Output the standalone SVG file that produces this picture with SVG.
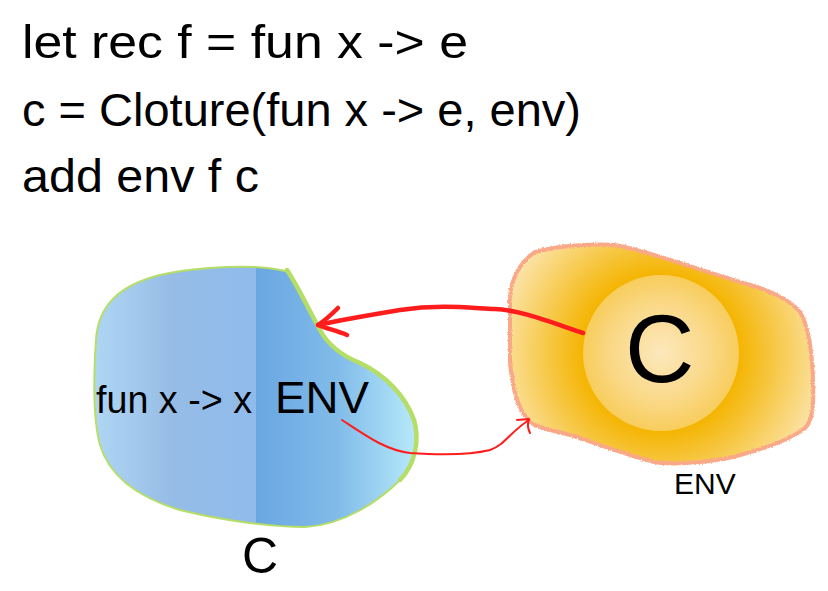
<svg xmlns="http://www.w3.org/2000/svg" width="828" height="591" viewBox="0 0 828 591">
  <style>
    .t { font-family: "Liberation Sans", Arial, sans-serif; fill: #000; }
    .red { fill: none; stroke: #ff1c1c; stroke-linecap: round; stroke-linejoin: round; }
  </style>
  <defs>
    <linearGradient id="blueGrad" gradientUnits="userSpaceOnUse" x1="93" y1="0" x2="418" y2="0">
      <stop offset="0" stop-color="#b0d6f4"/>
      <stop offset="0.25" stop-color="#96bce6"/>
      <stop offset="0.502" stop-color="#8fbbeb"/>
      <stop offset="0.503" stop-color="#6aa7e1"/>
      <stop offset="0.75" stop-color="#80bbe9"/>
      <stop offset="1" stop-color="#b8eafa"/>
    </linearGradient>
    <radialGradient id="orangeGrad" gradientUnits="userSpaceOnUse" cx="661" cy="353" r="165">
      <stop offset="0" stop-color="#f5b400"/>
      <stop offset="0.47" stop-color="#f4b400"/>
      <stop offset="1" stop-color="#fbe4aa"/>
    </radialGradient>
    <radialGradient id="innerGrad" gradientUnits="userSpaceOnUse" cx="661" cy="353" r="78">
      <stop offset="0" stop-color="#fce8bc"/>
      <stop offset="0.6" stop-color="#fad98a"/>
      <stop offset="1" stop-color="#f8cd5c"/>
    </radialGradient>
    <filter id="rough" x="-5%" y="-5%" width="110%" height="110%">
      <feTurbulence type="fractalNoise" baseFrequency="0.7" numOctaves="2" seed="3" result="n"/>
      <feDisplacementMap in="SourceGraphic" in2="n" scale="3" xChannelSelector="R" yChannelSelector="G"/>
    </filter>
  </defs>

  <g id="header">
    <text class="t" x="22" y="58" font-size="46" textLength="446" lengthAdjust="spacingAndGlyphs">let rec f = fun x -&gt; e</text>
    <text class="t" x="22" y="126" font-size="46" textLength="559" lengthAdjust="spacingAndGlyphs">c = Cloture(fun x -&gt; e, env)</text>
    <text class="t" x="22" y="192" font-size="46" textLength="237" lengthAdjust="spacingAndGlyphs">add env f c</text>
  </g>

  <g id="node-closure">
    <path d="M 96,340 C 98,305 120,285 160,275 C 190,268 230,266 255,267 C 270,268 283,269 290,273 C 300,290 310,312 320,330 C 328,345 340,355 360,363 C 385,375 405,395 414,420 C 420,440 415,465 400,480 C 380,500 345,525 305,527 C 270,527 220,520 180,510 C 140,498 110,478 100,445 C 92,415 94,370 96,340 Z" fill="url(#blueGrad)" stroke="#b5de66" stroke-width="2"/>
    <path d="M 287,270 C 300,290 310,312 320,330 C 328,345 340,355 360,363 C 385,375 405,395 414,420 C 420,440 415,465 400,480" fill="none" stroke="#b5de66" stroke-width="4.5" stroke-linecap="round"/>
    <text class="t" x="96" y="413" font-size="38" textLength="156" lengthAdjust="spacingAndGlyphs">fun x -&gt; x</text>
    <text class="t" x="275" y="413" font-size="44" textLength="94" lengthAdjust="spacingAndGlyphs">ENV</text>
    <text class="t" x="242" y="573" font-size="50">C</text>
  </g>

  <g id="node-env">
    <path d="M 510,300 C 510,280 520,262 535,252 C 560,245 600,243 620,246 C 650,252 700,270 740,282 C 770,290 790,300 800,312 C 808,325 812,350 813,380 C 814,405 813,420 805,428 C 790,440 760,450 733,457 C 705,463 670,465 655,462 C 630,456 600,445 580,438 C 560,431 540,430 530,422 C 518,410 512,390 510,360 Z" fill="url(#orangeGrad)"/>
    <path d="M 510,300 C 510,280 520,262 535,252 C 560,245 600,243 620,246 C 650,252 700,270 740,282 C 770,290 790,300 800,312 C 808,325 812,350 813,380 C 814,405 813,420 805,428 C 790,440 760,450 733,457 C 705,463 670,465 655,462 C 630,456 600,445 580,438 C 560,431 540,430 530,422 C 518,410 512,390 510,360 Z" fill="none" stroke="#f9a888" stroke-width="4" filter="url(#rough)"/>
    <circle cx="661" cy="353" r="78" fill="url(#innerGrad)"/>
    <text class="t" x="625" y="382" font-size="96">C</text>
    <text class="t" x="674" y="494" font-size="30">ENV</text>
  </g>

  <g id="connectors">
    <path class="red" stroke-width="4.5" d="M 583,333 C 550,322 520,310 495,309 C 470,308 440,304 400,310 C 370,315 340,320 318,325"/>
    <path class="red" stroke-width="4.5" d="M 338,308 C 330,316 324,321 318,325 C 328,329 338,331 347,335"/>
    <path class="red" stroke-width="2" d="M 342,420 C 365,435 385,450 410,453 C 440,455 470,455 490,450 C 505,445 510,432 529,420"/>
    <path class="red" stroke-width="2" d="M 517,420 L 529,419 C 527,424 528,429 530,433"/>
  </g>
</svg>
